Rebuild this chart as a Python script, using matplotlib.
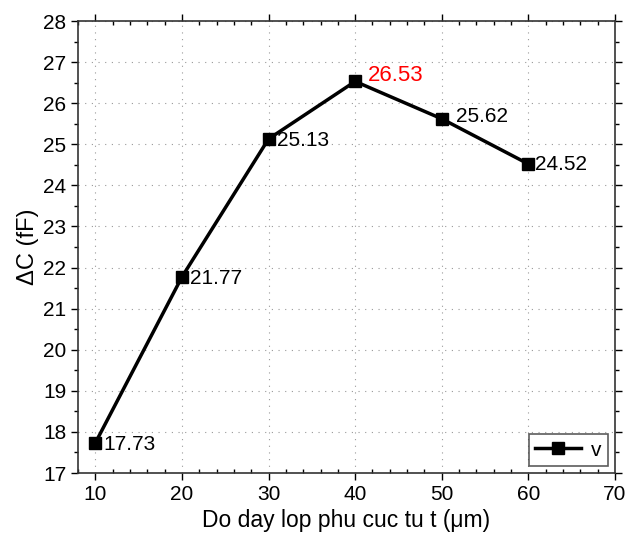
import matplotlib
matplotlib.use("Agg")
import matplotlib.pyplot as plt
from matplotlib.ticker import MultipleLocator

plt.rcParams['font.family'] = ['Liberation Sans', 'DejaVu Sans']

thickness = [10, 20, 30, 40, 50, 60]
delta_c = [17.73, 21.77, 25.13, 26.53, 25.62, 24.52]
labels = ["17.73", "21.77", "25.13", "26.53", "25.62", "24.52"]
label_colors = ["black", "black", "black", "red", "black", "black"]
label_offsets = [(6, -1), (6, -1), (6, -1), (9, 4), (10, 2), (5, 0)]
label_sizes = [15, 15, 15, 16, 15, 15]

fig = plt.figure(figsize=(6.37, 5.36), dpi=100)
ax = fig.add_axes([0.1224, 0.1175, 0.9655 - 0.1224, 0.9608 - 0.1175])

ax.plot(thickness, delta_c, color='black', lw=2.5, marker='s', ms=8.5,
        label='v', zorder=3)

for x, y, t, c, off, fs in zip(thickness, delta_c, labels, label_colors,
                               label_offsets, label_sizes):
    ax.annotate(t, (x, y), xytext=off, textcoords='offset points',
                ha='left', va='center', fontsize=fs, color=c)

ax.set_xlim(8, 70)
ax.set_ylim(17, 28)
ax.xaxis.set_major_locator(MultipleLocator(10))
ax.xaxis.set_minor_locator(MultipleLocator(2))
ax.yaxis.set_major_locator(MultipleLocator(1))
ax.yaxis.set_minor_locator(MultipleLocator(0.5))

ax.grid(True, which='major', linestyle=(0, (1, 5)), color='#999999', lw=0.8)
ax.tick_params(which='both', direction='out', top=True, right=True,
               labelsize=15, width=1.0)
ax.tick_params(which='major', length=5)
ax.tick_params(which='minor', length=3)
ax.tick_params(axis='x', which='minor', direction='in')
for s in ax.spines.values():
    s.set_linewidth(1.2)
    s.set_color('#333333')

ax.set_xlabel('Do day lop phu cuc tu t (\u03bcm)', fontsize=16.5, labelpad=4)
ax.set_ylabel('\u0394C (fF)', fontsize=17, labelpad=3)

leg = ax.legend(loc='lower right', fontsize=15, frameon=True, fancybox=False,
                edgecolor='#333333', handlelength=2.2, handletextpad=0.5,
                borderpad=0.3, borderaxespad=0.0,
                bbox_to_anchor=(0.987, 0.016))
leg.get_frame().set_linewidth(1.2)

fig.savefig('out.png', dpi=100)
